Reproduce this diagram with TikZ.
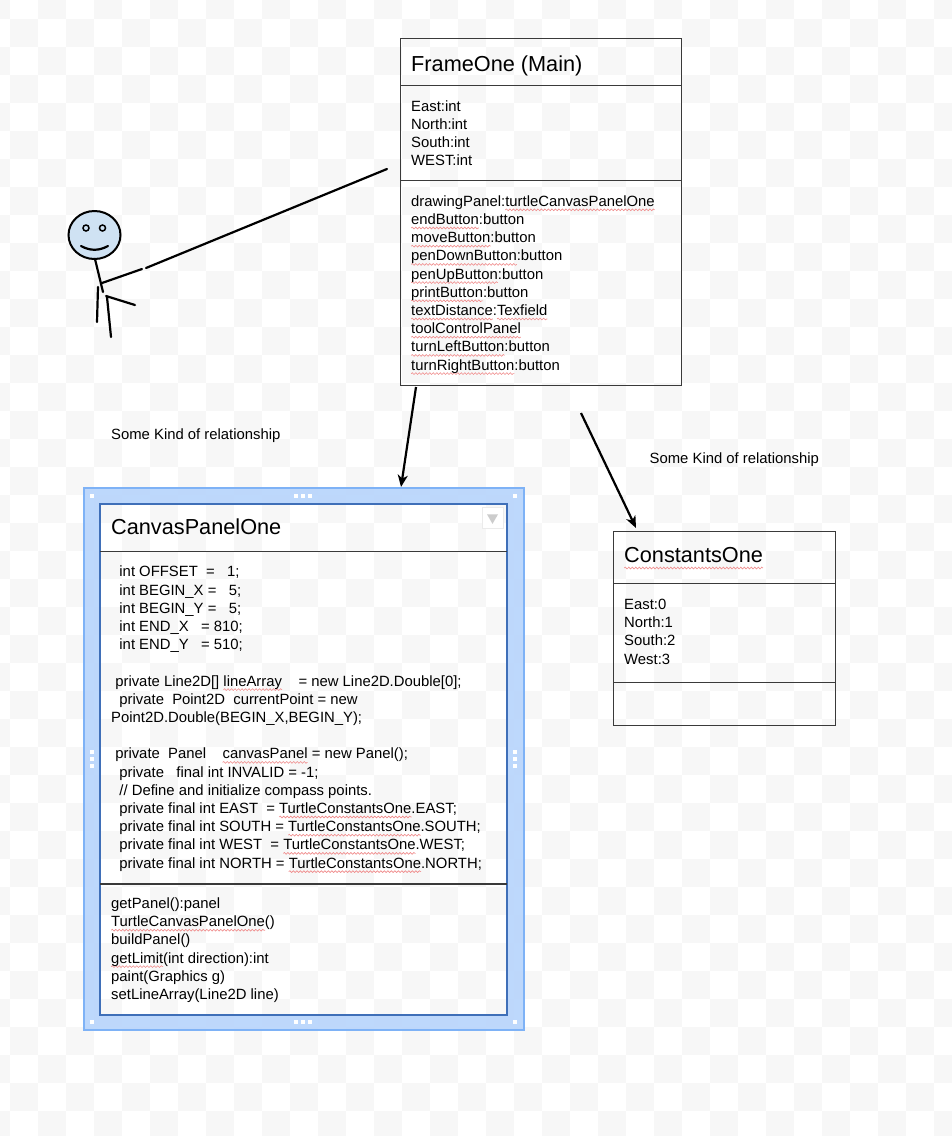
\documentclass[tikz,border=0pt]{standalone}
\usepackage{fontspec}
\setmainfont{Liberation Sans}
\usetikzlibrary{arrows.meta, decorations.pathmorphing, shapes.geometric}

\definecolor{tilegrey}{HTML}{F7F7F7}
\definecolor{boxline}{HTML}{3A3A3A}
\definecolor{selfill}{HTML}{BAD6FC}
\definecolor{selline}{HTML}{7EB2F6}
\definecolor{selbox}{HTML}{3F6FB8}
\definecolor{headblue}{HTML}{CFE2F3}
\definecolor{squigred}{HTML}{F08A8A}

\newlength{\squigwd}
\newcommand{\squig}[2][3.6pt]{\settowidth{\squigwd}{#2}\rlap{\tikz[overlay]\draw[squigred, line width=0.6pt, decorate, decoration={snake, segment length=3.5pt, amplitude=0.9pt}] (0pt,-#1) -- (\squigwd,-#1);}#2}

\begin{document}
\begin{tikzpicture}[x=1pt,y=-1pt]
	% Define styles for boxes, texts and lines
	\tikzstyle{tile} = [fill=tilegrey]
	\tikzstyle{umlbox} = [rectangle, draw=boxline, line width=1pt, inner sep=0pt, outer sep=0pt, anchor=north west]
	\tikzstyle{divider} = [draw=boxline, line width=1pt]
	\tikzstyle{headtext} = [inner sep=0pt, anchor=base west, font=\fontsize{21.7}{26}\selectfont]
	\tikzstyle{bodytext} = [inner sep=0pt, anchor=base west, align=left, font=\fontsize{14.85}{18.2}\selectfont]
	\tikzstyle{handle} = [rectangle, fill=white, inner sep=0pt, minimum size=3.5pt]
	\tikzstyle{stick} = [line width=2.2pt, line cap=round]
	\tikzstyle{arrow} = [line width=2.2pt, -{Stealth[length=12pt, width=10pt, inset=3.5pt]}]

	\useasboundingbox (0,0) rectangle (952,1136);
	\clip (0,0) rectangle (952,1136);
	\fill[white] (0,0) rectangle (952,1136);

	% Draw the chequered background
	\foreach \row in {0,...,41}
		\foreach \col in {0,...,17}
			\fill[tile] ({-18+28*mod(\row,2)+56*\col},{-9+28*\row}) rectangle ++(28,28);

	% Draw the selection frame around CanvasPanelOne
	\fill[selfill, even odd rule, fill opacity=0.95] (84,488) rectangle (524,1030) (100,504) rectangle (507,1015);
	\draw[selline, line width=1.5pt] (84,488) rectangle (524,1030);
	\foreach \hx/\hy [count=\i] in {92/496,515/496,92/1022,515/1022,296/496,303/496,310/496,296/1022,303/1022,310/1022,92/752,92/759,92/766,515/752,515/759,515/766}
		\node[handle] (handle\i) at (\hx,\hy) {};

	% Draw FrameOne
	\node[umlbox, minimum width=281pt, minimum height=347pt] (frameBox) at (400,38) {};
	\draw[divider] (frameBox.west |- 0,85) -- (frameBox.east |- 0,85);
	\draw[divider] (frameBox.west |- 0,180) -- (frameBox.east |- 0,180);
	\node[headtext] (frameTitle) at (411,71) {FrameOne (Main)};
	\node[bodytext] (frameAttrs) at (411,165.6) {East:int\\North:int\\South:int\\WEST:int};
	\node[bodytext] (frameParts) at (411,370) {drawingPanel:\squig{turtleCanvasPanelOne}\\
		\squig{endButton}:button\\
		\squig{moveButton}:button\\
		\squig{penDownButton}:button\\
		\squig{penUpButton}:button\\
		\squig{printButton}:button\\
		\squig{textDistance}:\squig{Texfield}\\
		\squig{toolControlPanel}\\
		\squig{turnLeftButton}:button\\
		\squig{turnRightButton}:button};

	% Draw CanvasPanelOne
	\node[umlbox, draw=selbox, line width=1.5pt, minimum width=407pt, minimum height=511pt] (canvasBox) at (100,504) {};
	\draw[divider] (canvasBox.west |- 0,551) -- (canvasBox.east |- 0,551);
	\draw[divider, line width=1.3pt] (canvasBox.west |- 0,884) -- (canvasBox.east |- 0,884);
	\node[headtext] (canvasTitle) at (111,534) {CanvasPanelOne};
	\node[rectangle, draw=black!8, fill=white, line width=1pt, inner sep=0pt, minimum size=21pt] (canvasMenu) at (492.5,517.5) {};
	\node[isosceles triangle, isosceles triangle apex angle=60, shape border rotate=-90, fill=black!20, inner sep=0pt, minimum width=11pt, minimum height=6pt] (canvasArrow) at (canvasMenu) {};
	\node[bodytext] (canvasAttrs) at (111,868) {~~int OFFSET~~=~~~1;\\
		~~int BEGIN\_X =~~~5;\\
		~~int BEGIN\_Y =~~~5;\\
		~~int END\_X~~~= 810;\\
		~~int END\_Y~~~= 510;\\
		\mbox{}\\
		~private Line2D[] \squig{lineArray}~~~~= new Line2D.Double[0];\\
		~~private~~Point2D~~currentPoint = new\\
		Point2D.Double(BEGIN\_X,BEGIN\_Y);\\
		\mbox{}\\
		~private~~Panel~~~~\squig{canvasPanel} = new Panel();\\
		~~private~~~final int INVALID = -1;\\
		~~// Define and initialize compass points.\\
		~~private final int EAST~~= \squig{TurtleConstantsOne}.EAST;\\
		~~private final int SOUTH = \squig{TurtleConstantsOne}.SOUTH;\\
		~~private final int WEST~~= \squig{TurtleConstantsOne}.WEST;\\
		~~private final int NORTH = \squig{TurtleConstantsOne}.NORTH;};
	\node[bodytext] (canvasOps) at (111,999.4) {getPanel():panel\\
		\squig{TurtleCanvasPanelOne}()\\
		buildPanel()\\
		\squig{getLimit}(int direction):int\\
		paint(Graphics g)\\
		setLineArray(Line2D line)};

	% Draw ConstantsOne
	\node[umlbox, minimum width=222pt, minimum height=194pt] (constBox) at (613,531.5) {};
	\draw[divider] (constBox.west |- 0,583.5) -- (constBox.east |- 0,583.5);
	\draw[divider] (constBox.west |- 0,682) -- (constBox.east |- 0,682);
	\node[headtext] (constTitle) at (624,562.5) {\squig[5.5pt]{ConstantsOne}};
	\node[bodytext] (constAttrs) at (624,664) {East:0\\North:1\\South:2\\West:3};

	% Annotate the relationships
	\node[bodytext] (relLeft) at (111,439) {Some Kind of relationship};
	\node[bodytext] (relRight) at (649.5,463) {Some Kind of relationship};
	\coordinate (frameLeftOut) at (416,387);
	\coordinate (canvasIn) at (401,487);
	\coordinate (frameRightOut) at (581,413);
	\coordinate (constIn) at (636,528);
	\draw[arrow] (frameLeftOut) -- (canvasIn);
	\draw[arrow] (frameRightOut) -- (constIn);

	% Draw the stick figure
	\node[ellipse, draw=black, fill=headblue, line width=2pt, inner sep=0pt, minimum width=52pt, minimum height=48pt] (head) at (94.5,235) {};
	\node[circle, draw=black, line width=1.5pt, inner sep=0pt, minimum size=6pt] (eyeLeft) at (86,228) {};
	\node[circle, draw=black, line width=1.5pt, inner sep=0pt, minimum size=6pt] (eyeRight) at (102.5,228) {};
	\draw[stick] (81,246) .. controls (90,251) and (99,251) .. (108,246);
	\draw[stick] (95,259) -- (103,292);
	\draw[stick] (98,287) -- (97,322);
	\draw[stick] (107,297) -- (111,337);
	\draw[stick] (106,296) -- (135,305);

	% Draw the line between the figure and FrameOne
	\coordinate (handStart) at (102,283);
	\coordinate (gapLeft) at (142,269);
	\coordinate (gapRight) at (146,268);
	\coordinate (frameIn) at (387,169);
	\draw[stick] (handStart) -- (gapLeft);
	\draw[stick] (gapRight) -- (frameIn);
\end{tikzpicture}
\end{document}
